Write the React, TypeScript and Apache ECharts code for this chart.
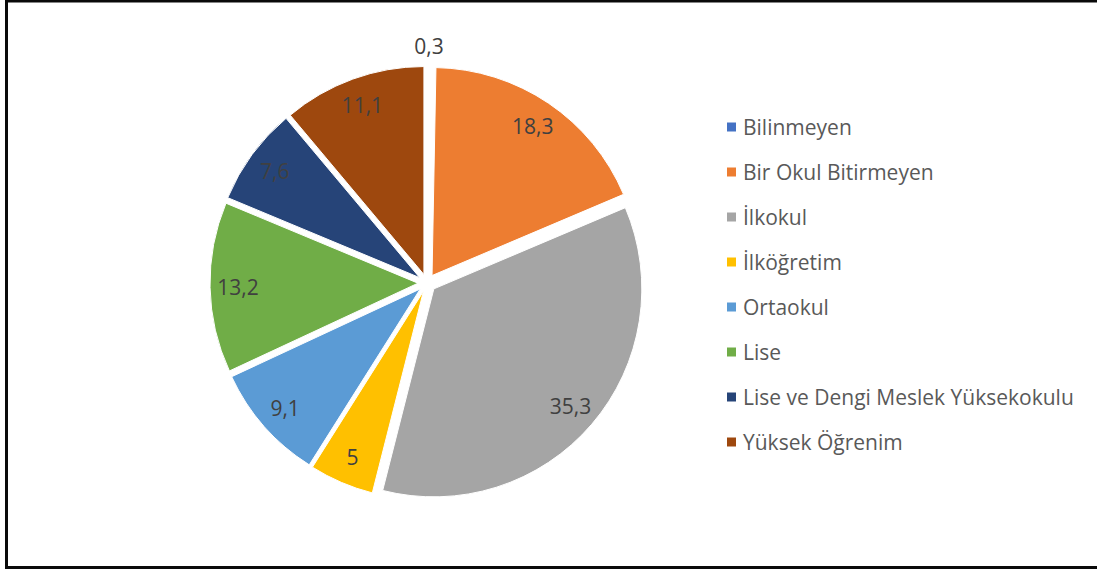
import React, { useEffect, useRef } from "react";
import * as echarts from "echarts";

const categories = [
  "Bilinmeyen",
  "Bir Okul Bitirmeyen",
  "İlkokul",
  "İlköğretim",
  "Ortaokul",
  "Lise",
  "Lise ve Dengi Meslek Yüksekokulu",
  "Yüksek Öğrenim",
];
const values = [0.3, 18.3, 35.3, 5, 9.1, 13.2, 7.6, 11.1];
const colors = ["#4472C4", "#ED7D31", "#A5A5A5", "#FFC000", "#5B9BD5", "#70AD47", "#264478", "#9E480E"];

const FONT = "'Open Sans', 'Noto Sans', sans-serif";

export default function App() {
  const ref = useRef<HTMLDivElement>(null);
  useEffect(() => {
    if (!ref.current) return;
    const chart = echarts.init(ref.current, null, { renderer: "svg" });
    const center = [427, 283];
    const R = 208;
    const offset = 9;
    chart.setOption({
      animation: false,
      backgroundColor: "#ffffff",
      graphic: [
        {
          type: "rect",
          shape: { x: 6.5, y: 1, width: 1200, height: 566.5 },
          style: { fill: "none", stroke: "#0a0a0a", lineWidth: 3 },
          silent: true,
        },
      ],
      legend: {
        orient: "vertical",
        left: 722,
        top: 111.5,
        icon: "rect",
        itemWidth: 9,
        itemHeight: 9,
        itemGap: 24,
        selectedMode: false,
        data: categories,
        itemStyle: { borderWidth: 0 },
        textStyle: { color: "#595959", fontSize: 21, fontFamily: FONT, lineHeight: 21, padding: [0, 0, 0, 2] },
      },
      series: [
        {
          type: "pie",
          center,
          radius: R,
          startAngle: 90,
          clockwise: true,
          selectedMode: "multiple",
          selectedOffset: offset,
          label: { show: false },
          labelLine: { show: false },
          emphasis: { disabled: true },
          itemStyle: { borderColor: "#ffffff", borderWidth: 1 },
          data: categories.map((name, i) => ({
            name,
            value: values[i],
            selected: true,
            itemStyle: i === 0 ? { color: colors[i], borderWidth: 5 } : { color: colors[i] },
          })),
        },
        {
          type: "pie",
          center,
          radius: [146, R],
          startAngle: 90,
          clockwise: true,
          silent: true,
          avoidLabelOverlap: false,
          selectedMode: "multiple",
          selectedOffset: offset,
          emphasis: { disabled: true },
          itemStyle: { color: "rgba(0,0,0,0)", borderWidth: 0 },
          label: {
            show: true,
            position: "inside",
            color: "#404040",
            fontSize: 21,
            fontFamily: FONT,
            formatter: (p: any) => String(p.value).replace(".", ","),
          },
          labelLine: { show: false, length: 20, length2: 0 },
          labelLayout: (p: any) => (p.dataIndex === 0 ? { dx: -20 } : {}),
          data: categories.map((name, i) => ({
            name,
            value: values[i],
            selected: true,
            label: i === 0 ? { position: "outside" } : undefined,
          })),
        },
      ],
    });
    return () => chart.dispose();
  }, []);
  return <div ref={ref} style={{ position: "absolute", left: 0, top: 0, width: 1097, height: 571 }} />;
}
